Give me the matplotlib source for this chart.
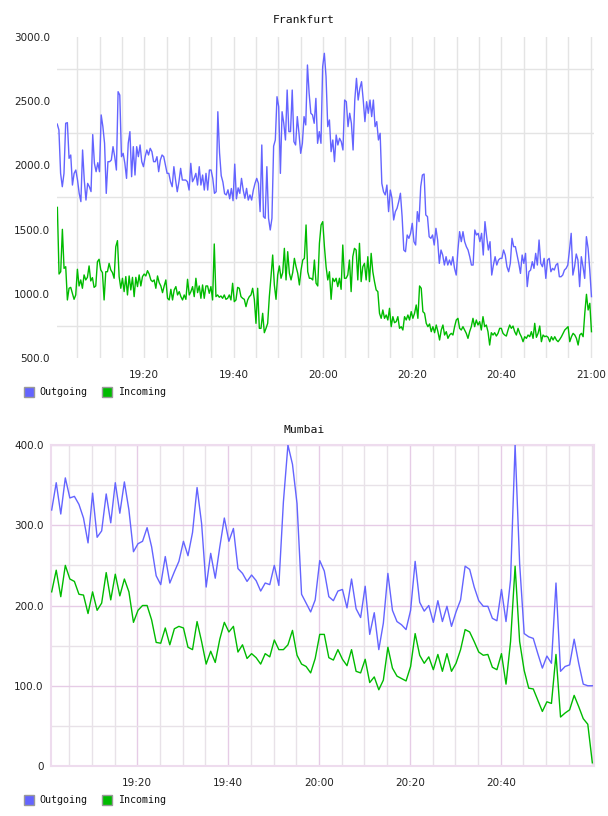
import numpy as np
import pandas as pd
import matplotlib
matplotlib.use('Agg')
import matplotlib.pyplot as plt
import matplotlib.dates as mdates
from matplotlib.patches import Rectangle

# ---------------- data ----------------
series_names = ["Outgoing", "Incoming"]

# Frankfurt (approx. every ~22 s, 19:00:30 .. 21:00:10)
fra_outgoing = [2322, 2276, 1938, 1834, 1938, 2328, 2333, 2055, 2081, 1847, 1938, 1964, 1886, 1782, 1718, 2120, 1886, 1730, 1860, 1834,
    1796, 2240, 2016, 1951, 2021, 1951, 2393, 2302, 2172, 1782, 2029, 2029, 2042, 2146, 2068, 1964, 2574, 2548, 2068, 2094,
    2016, 1899, 2172, 2263, 1912, 2146, 1925, 2146, 2068, 2159, 2029, 1990, 2068, 2120, 2081, 2133, 2107, 2029, 2029, 2068,
    1951, 2042, 2081, 2068, 2003, 1938, 1938, 1873, 1834, 1990, 1886, 1795, 1873, 1977, 1886, 1886, 1886, 1873, 1808, 2016,
    1873, 1899, 1938, 1847, 1990, 1847, 1925, 1808, 1938, 1808, 1964, 1964, 1899, 1782, 1795, 2418, 2100, 1920, 1870, 1780,
    1770, 1810, 1740, 1820, 1725, 2010, 1740, 1825, 1782, 1899, 1808, 1744, 1821, 1730, 1770, 1730, 1808, 1860, 1899, 1860,
    1640, 2159, 1601, 1588, 1990, 1588, 1497, 1588, 2150, 2198, 2535, 2457, 1938, 2418, 2328, 2198, 2587, 2263, 2263, 2587,
    2185, 2159, 2380, 2250, 2094, 2172, 2380, 2315, 2782, 2561, 2406, 2393, 2328, 2522, 2172, 2263, 2172, 2769, 2873, 2691,
    2302, 2354, 2107, 2198, 2029, 2237, 2159, 2211, 2185, 2120, 2509, 2496, 2302, 2406, 2328, 2120, 2509, 2678, 2509, 2600,
    2652, 2509, 2341, 2496, 2406, 2509, 2380, 2509, 2302, 2341, 2198, 2250, 1860, 1795, 1770, 1847, 1640, 1808, 1744, 1575,
    1640, 1666, 1718, 1783, 1601, 1341, 1328, 1458, 1432, 1471, 1549, 1406, 1380, 1640, 1562, 1834, 1925, 1933, 1614, 1601,
    1445, 1432, 1458, 1380, 1510, 1419, 1237, 1341, 1302, 1224, 1289, 1224, 1263, 1224, 1289, 1198, 1146, 1341, 1484, 1406,
    1484, 1406, 1367, 1341, 1289, 1224, 1224, 1497, 1458, 1471, 1406, 1471, 1302, 1562, 1445, 1341, 1406, 1146, 1224, 1289,
    1224, 1263, 1276, 1276, 1341, 1302, 1211, 1172, 1237, 1432, 1367, 1367, 1302, 1237, 1159, 1302, 1237, 1315, 1056, 1172,
    1185, 1250, 1198, 1315, 1224, 1419, 1237, 1211, 1276, 1120, 1263, 1276, 1172, 1198, 1185, 1224, 1237, 1133, 1133, 1146,
    1185, 1198, 1224, 1341, 1471, 1146, 1211, 1310, 1263, 1056, 1289, 1211, 1120, 1445, 1354, 1185, 978]

fra_incoming = [1673, 1154, 1172, 1502, 1198, 1211, 952, 1043, 1050, 1004, 957, 991, 1191, 1061, 1108, 1043, 1147, 1108, 1128, 1217,
    1100, 1126, 1050, 1061, 1250, 1269, 1186, 1165, 952, 1172, 1172, 1237, 1186, 1165, 1121, 1367, 1414, 1134, 1043, 1121,
    1017, 1134, 991, 1139, 1030, 1128, 978, 1128, 1056, 1147, 1061, 1134, 1154, 1139, 1180, 1154, 1108, 1095, 1108, 1043,
    1139, 1087, 1061, 1009, 1061, 1108, 965, 952, 1035, 952, 1030, 1056, 991, 1017, 978, 952, 991, 957, 1113, 991,
    1017, 1056, 978, 1121, 1009, 1061, 965, 1069, 965, 1061, 1061, 1004, 1056, 952, 1388, 978, 991, 973, 983, 965,
    991, 957, 965, 991, 952, 1082, 939, 952, 1050, 1043, 978, 965, 957, 900, 952, 978, 991, 1043, 957, 770,
    1043, 731, 731, 848, 697, 731, 770, 978, 1134, 1302, 1069, 957, 1147, 1217, 1121, 1165, 1354, 1108, 1328, 1160,
    1108, 1165, 1276, 1211, 1160, 1069, 1185, 1263, 1276, 1536, 1172, 1121, 1121, 1108, 1263, 1082, 1061, 1393, 1536, 1562,
    1367, 1211, 1108, 1172, 957, 1121, 1095, 1121, 1056, 1121, 1035, 1380, 1121, 1121, 1147, 1263, 1017, 1289, 1354, 1341,
    1108, 1393, 1095, 1211, 1237, 1108, 1289, 1095, 1315, 1172, 1095, 1030, 1017, 848, 809, 874, 809, 835, 796, 887,
    744, 822, 775, 783, 822, 731, 744, 718, 822, 796, 835, 796, 861, 809, 848, 913, 809, 1061, 1043, 861,
    848, 770, 744, 765, 705, 744, 697, 757, 705, 640, 718, 757, 679, 705, 653, 679, 692, 679, 744, 796,
    809, 731, 718, 744, 718, 692, 653, 705, 744, 809, 744, 796, 757, 783, 718, 822, 744, 757, 705, 601,
    697, 679, 697, 671, 692, 731, 731, 692, 679, 671, 718, 757, 731, 749, 705, 679, 731, 692, 666, 627,
    666, 653, 679, 666, 705, 653, 770, 661, 692, 749, 627, 679, 666, 671, 661, 627, 666, 640, 666, 640,
    627, 645, 666, 692, 718, 731, 744, 627, 666, 692, 679, 653, 601, 679, 692, 666, 848, 996, 874, 926, 705]

# Mumbai (one value per minute, 19:01 .. 21:00)
mum_outgoing = [319, 353, 314, 359, 334, 336, 326, 309, 278, 340, 285, 293, 339, 303, 353, 315, 354, 319, 267, 277,
    280, 297, 273, 237, 226, 261, 228, 242, 255, 280, 262, 291, 347, 302, 223, 265, 234, 273, 309, 280,
    296, 246, 240, 230, 238, 231, 218, 228, 226, 250, 225, 329, 400, 376, 327, 214, 203, 192, 207, 256,
    243, 211, 206, 218, 220, 197, 233, 196, 185, 224, 164, 191, 145, 178, 240, 194, 180, 176, 170, 194,
    255, 204, 193, 200, 179, 206, 180, 199, 174, 192, 207, 249, 245, 223, 206, 199, 199, 184, 181, 220,
    180, 232, 400, 252, 165, 161, 159, 140, 122, 137, 128, 228, 118, 124, 126, 158, 128, 102, 100, 100]

mum_incoming = [217, 244, 211, 250, 233, 230, 214, 213, 190, 217, 194, 203, 241, 207, 239, 212, 233, 217, 179, 194,
    200, 200, 182, 154, 153, 172, 151, 171, 174, 172, 148, 145, 180, 155, 127, 143, 129, 158, 179, 167,
    174, 142, 151, 134, 140, 135, 127, 140, 136, 157, 145, 145, 151, 169, 138, 127, 124, 116, 134, 164,
    164, 135, 132, 145, 133, 125, 145, 118, 116, 133, 104, 111, 95, 107, 148, 122, 112, 109, 106, 124,
    165, 138, 128, 136, 120, 139, 118, 140, 118, 128, 145, 170, 167, 155, 142, 138, 139, 123, 120, 140,
    102, 155, 249, 155, 119, 97, 96, 82, 68, 80, 78, 139, 61, 66, 70, 88, 74, 59, 52, 4]

time_labels = ["19:20", "19:40", "20:00", "20:20", "20:40", "21:00"]
fra_yticks = [500, 1000, 1500, 2000, 2500, 3000]
mum_yticks = [0, 100, 200, 300, 400]

# ---------------- style ----------------
BLUE = '#6464ff'
GREEN = '#00bb00'
DAY = '2024-01-01 '


def T(s):
    return pd.Timestamp(DAY + s)


W, H = 608, 816
fig = plt.figure(figsize=(W / 100, H / 100), dpi=100)
fig.patch.set_facecolor('white')


def box(l, t, r, b):
    return [l / W, 1 - b / H, (r - l) / W, (b - t) / H]


def fmt_common(ax):
    ax.tick_params(axis='both', which='both', length=0, labelsize=7.5, colors='#222222')
    ax.set_axisbelow(True)
    ax.xaxis.set_major_formatter(mdates.DateFormatter('%H:%M'))
    ax.tick_params(axis='x', pad=9)
    ax.tick_params(axis='y', pad=5)


# ---- Frankfurt ----
ax1 = fig.add_axes(box(57, 37, 594, 358))
t1 = pd.date_range(T('19:00:30'), T('21:00:10'), periods=len(fra_outgoing))
t2 = pd.date_range(T('19:00:32'), T('21:00:10'), periods=len(fra_incoming))
ax1.plot(t1, fra_outgoing, color=BLUE, lw=1.0, zorder=3)
ax1.plot(t2, fra_incoming, color=GREEN, lw=1.0, zorder=3)
ax1.set_xlim(T('19:00:27'), T('21:00:44'))
ax1.set_ylim(500, 3000)
ax1.set_yticks(fra_yticks)
ax1.set_yticklabels([f"{v:.1f}" for v in fra_yticks])
ax1.set_yticks([750, 1250, 1750, 2250, 2750], minor=True)
ax1.set_xticks([T(s) for s in time_labels])
ax1.set_xticks(pd.date_range(T('19:05'), T('21:00'), freq='5min'), minor=True)
for s in ax1.spines.values():
    s.set_visible(False)
fmt_common(ax1)
ax1.yaxis.grid(True, which='minor', color='#e4e4e4', lw=1.0)
ax1.xaxis.grid(True, which='both', color='#e4e4e4', lw=1.0)
fig.text(304 / W, 1 - 20 / H, "Frankfurt", ha='center', va='center',
         family='DejaVu Sans Mono', fontsize=8.2, color='#111111')

# ---- Mumbai ----
ax2 = fig.add_axes(box(50.7, 445, 594, 766))
tm_ = pd.date_range(T('19:01:10'), periods=len(mum_outgoing), freq='1min')
ax2.plot(tm_, mum_outgoing, color=BLUE, lw=1.0, zorder=3)
ax2.plot(tm_, mum_incoming, color=GREEN, lw=1.0, zorder=3)
ax2.set_xlim(T('19:00:57'), T('21:00:32'))
ax2.set_ylim(0, 400)
ax2.set_yticks(mum_yticks)
ax2.set_yticklabels(["0"] + [f"{v:.1f}" for v in mum_yticks[1:]])
ax2.set_yticks([50, 150, 250, 350], minor=True)
ax2.set_xticks([T(s) for s in time_labels[:-1]])
ax2.set_xticks(pd.date_range(T('19:05'), T('21:00'), freq='5min'), minor=True)
for s in ax2.spines.values():
    s.set_color('#eedcee')
    s.set_linewidth(1.5)
fmt_common(ax2)
ax2.grid(True, which='major', color='#e6cce6', lw=1.0)
ax2.grid(True, which='minor', color='#e8e2e8', lw=1.0)
fig.text(304 / W, 1 - 430 / H, "Mumbai", ha='center', va='center',
         family='DejaVu Sans Mono', fontsize=8.2, color='#111111')

# ---- legends ----
colors = [BLUE, GREEN]
for ycen in (392, 800):
    for (xs, xt), name, c in zip([(24, 39), (102, 118)], series_names, colors):
        fig.add_artist(Rectangle((xs / W, 1 - (ycen + 5) / H), 10 / W, 10 / H,
                                 transform=fig.transFigure, facecolor=c,
                                 edgecolor='#999999', lw=1.0))
        fig.text(xt / W, 1 - ycen / H, name, ha='left', va='center',
                 family='DejaVu Sans Mono', fontsize=7.2, color='#111111')

fig.savefig('out.png', dpi=100, facecolor='white')
